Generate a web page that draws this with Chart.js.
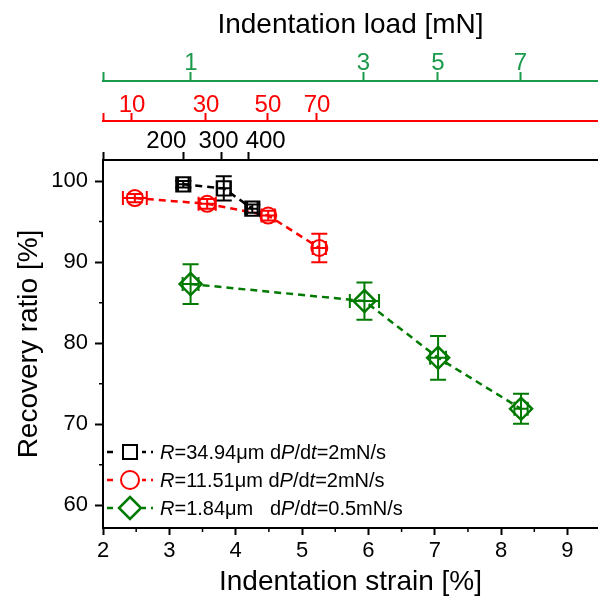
<!DOCTYPE html>
<html><head><meta charset="utf-8">
<script src="https://cdn.jsdelivr.net/npm/chart.js@4.4.1/dist/chart.umd.min.js"></script>
<style>
html,body{margin:0;padding:0;background:#fff;overflow:hidden}
#wrap{position:relative;width:598px;height:602px}
#legend{position:absolute;left:104px;top:438px;font-family:"Liberation Sans",Arial,sans-serif;font-size:20px;color:#000}
.row{height:28px;display:flex;align-items:center;white-space:pre}
.row svg{margin-right:4px;flex:none}
</style></head>
<body><div id="wrap"><canvas id="c" width="598" height="602"></canvas><div id="legend"></div></div>
<script>
// ---- data ----
const strainBlack = [3.21, 3.82, 4.25];
const ratioBlack  = [99.6, 99.1, 96.6];
const errYBlack   = [0.4, 1.5, 0.5];
const errXBlack   = [0.08, 0.1, 0.08];

const strainRed = [2.48, 3.57, 4.49, 5.26];
const ratioRed  = [97.9, 97.2, 95.75, 91.75];
const errYRed   = [0.5, 0.6, 0.6, 1.75];
const errXRed   = [0.18, 0.13, 0.1, 0.1];

const strainGreen = [3.32, 5.94, 7.05, 8.3];
const ratioGreen  = [87.3, 85.2, 78.2, 71.9];
const errYGreen   = [2.45, 2.3, 2.7, 1.85];
const errXGreen   = [0.12, 0.22, 0.12, 0.1];

const legendLabels = [
  '<i>R</i>=34.94μm d<i>P</i>/d<i>t</i>=2mN/s',
  '<i>R</i>=11.51μm d<i>P</i>/d<i>t</i>=2mN/s',
  '<i>R</i>=1.84μm   d<i>P</i>/d<i>t</i>=0.5mN/s'
];

const xTickValues = [2, 3, 4, 5, 6, 7, 8, 9];
const yTickValues = [60, 70, 80, 90, 100];

// top axes: load tick labels and their strain positions
// (black labels are padded with spaces so they sit side by side as in the original)
const loadBlackLabels = ['', '200     ', '300 ', '     400'];
const loadBlackPos    = [2, 3.206, 3.793, 4.2];
const loadRedLabels   = ['', '10', '30', '50', '70'];
const loadRedPos      = [2, 2.437, 3.552, 4.486, 5.225];
const loadGreenLabels = ['', '1', '3', '5', '7'];
const loadGreenPos    = [2, 3.326, 5.925, 7.048, 8.291];

// ---- styling ----
const BLACK = '#000000', RED = '#ff0000', GREEN = '#007a00', AXGREEN = '#1a9a4a';
const FF = '"Liberation Sans", Arial, sans-serif';
const XMIN = 2, XMAX = 9.46;

function pts(xs, ys){ return xs.map((x,i)=>({x:x, y:ys[i]})); }

const errs = [
  {ex: errXBlack, ey: errYBlack},
  {ex: errXRed, ey: errYRed},
  {ex: errXGreen, ey: errYGreen}
];

const errorBarPlugin = {
  id: 'errbars',
  afterDatasetsDraw(chart){
    const ctx = chart.ctx, xs = chart.scales.x, ys = chart.scales.y;
    chart.data.datasets.forEach((ds, di) => {
      const e = errs[di];
      ctx.save();
      ctx.strokeStyle = ds.borderColor;
      ctx.lineWidth = 2;
      ds.data.forEach((p, i) => {
        const px = xs.getPixelForValue(p.x), py = ys.getPixelForValue(p.y);
        const y1 = ys.getPixelForValue(p.y + e.ey[i]), y2 = ys.getPixelForValue(p.y - e.ey[i]);
        const x1 = xs.getPixelForValue(p.x - e.ex[i]), x2 = xs.getPixelForValue(p.x + e.ex[i]);
        const cw = 8;
        ctx.beginPath();
        ctx.moveTo(px, y1); ctx.lineTo(px, y2);
        ctx.moveTo(px - cw, y1); ctx.lineTo(px + cw, y1);
        ctx.moveTo(px - cw, y2); ctx.lineTo(px + cw, y2);
        ctx.moveTo(x1, py); ctx.lineTo(x2, py);
        ctx.moveTo(x1, py - 7); ctx.lineTo(x1, py + 7);
        ctx.moveTo(x2, py - 7); ctx.lineTo(x2, py + 7);
        ctx.stroke();
      });
      ctx.restore();
    });
  }
};

const minorTickPlugin = {
  id: 'minorticks',
  afterDraw(chart){
    const ctx = chart.ctx, xs = chart.scales.x, ys = chart.scales.y, a = chart.chartArea;
    ctx.save();
    ctx.strokeStyle = '#000'; ctx.lineWidth = 1.5;
    ctx.beginPath();
    for (let v = 2.5; v < XMAX; v += 1){
      const px = xs.getPixelForValue(v);
      ctx.moveTo(px, a.bottom); ctx.lineTo(px, a.bottom + 4);
    }
    for (let v = 65; v < 102; v += 10){
      const py = ys.getPixelForValue(v);
      ctx.moveTo(a.left, py); ctx.lineTo(a.left - 4, py);
    }
    ctx.stroke();
    ctx.restore();
  }
};

function noPad(s){ s.paddingLeft = 0; s.paddingRight = 0; s.paddingTop = 0; s.paddingBottom = 0; }

function topAxis(weight, height, pos, labels, color, pad, tl, title){
  const ax = {
    type: 'linear', position: 'top', min: XMIN, max: XMAX, weight: weight,
    afterBuildTicks: s => { s.ticks = pos.map(v => ({value: v})); },
    afterFit: s => { s.height = height; noPad(s); },
    ticks: {
      color: color, padding: pad, maxRotation: 0, autoSkip: false,
      font: {family: FF, size: 24, lineHeight: 1},
      callback: (v, i) => labels[i]
    },
    grid: {drawOnChartArea: false, tickLength: tl, tickWidth: 2, tickColor: color},
    border: {color: color, width: 2}
  };
  if (title) ax.title = {display: true, text: title, color: '#000',
    font: {family: FF, size: 28, lineHeight: 1.2}, padding: {top: 8, bottom: 0}};
  return ax;
}

const chart = new Chart(document.getElementById('c'), {
  type: 'line',
  data: {
    datasets: [
      {label: 'black', data: pts(strainBlack, ratioBlack), borderColor: BLACK,
       pointStyle: 'rect', pointRadius: 10, pointBorderWidth: 2},
      {label: 'red', data: pts(strainRed, ratioRed), borderColor: RED,
       pointStyle: 'circle', pointRadius: 8, pointBorderWidth: 2},
      {label: 'green', data: pts(strainGreen, ratioGreen), borderColor: GREEN,
       pointStyle: 'rectRot', pointRadius: 11, pointBorderWidth: 2.5}
    ].map(d => Object.assign(d, {
      borderWidth: 2.5, borderDash: [7, 5], backgroundColor: 'transparent',
      pointBackgroundColor: 'transparent', pointBorderColor: d.borderColor,
      showLine: true, tension: 0, fill: false, clip: false
    }))
  },
  options: {
    responsive: false, animation: false,
    layout: {padding: 0, autoPadding: false},
    plugins: {legend: {display: false}, tooltip: {enabled: false}},
    scales: {
      x: {
        type: 'linear', position: 'bottom', min: XMIN, max: XMAX,
        afterBuildTicks: s => { s.ticks = xTickValues.map(v => ({value: v})); },
        afterFit: s => { s.height = 74; noPad(s); },
        ticks: {color: '#000', padding: 5, maxRotation: 0, font: {family: FF, size: 22, lineHeight: 1},
                callback: v => String(v)},
        grid: {drawOnChartArea: false, tickLength: 7, tickWidth: 2, tickColor: '#000'},
        border: {color: '#000', width: 2},
        title: {display: true, text: 'Indentation strain [%]', color: '#000',
                font: {family: FF, size: 28, lineHeight: 1.2}, padding: {top: 0, bottom: 3}}
      },
      y: {
        type: 'linear', position: 'left', min: 57.2, max: 102.6,
        afterBuildTicks: s => { s.ticks = yTickValues.map(v => ({value: v})); },
        afterFit: s => { s.width = 103; noPad(s); },
        ticks: {color: '#000', padding: 7, font: {family: FF, size: 22, lineHeight: 1},
                callback: v => String(v)},
        grid: {drawOnChartArea: false, tickLength: 8, tickWidth: 2, tickColor: '#000'},
        border: {color: '#000', width: 2},
        title: {display: true, text: 'Recovery ratio [%]', color: '#000',
                font: {family: FF, size: 28, lineHeight: 1.2}, padding: {top: 12, bottom: 0}}
      },
      xBlack: topAxis(1, 39, loadBlackPos, loadBlackLabels, '#000', -1, 8, null),
      xRed: topAxis(2, 40, loadRedPos, loadRedLabels, RED, -4.5, 8, null),
      xGreen: topAxis(3, 81, loadGreenPos, loadGreenLabels, AXGREEN, -3.5, 9, 'Indentation load [mN]')
    }
  },
  plugins: [errorBarPlugin, minorTickPlugin]
});

// ---- HTML legend (mixed italic text) ----
const legendEl = document.getElementById('legend');
const markers = [
  '<rect x="19" y="6" width="14" height="14" fill="none" stroke="#000" stroke-width="2"/>',
  '<circle cx="26" cy="13" r="9" fill="none" stroke="#ff0000" stroke-width="2"/>',
  '<polygon points="26,2 37,13 26,24 15,13" fill="none" stroke="#007a00" stroke-width="2.5"/>'
];
chart.data.datasets.forEach((ds, i) => {
  const row = document.createElement('div');
  row.className = 'row';
  row.innerHTML = '<svg width="52" height="26" viewBox="0 0 52 26">' +
    '<line x1="3" y1="13" x2="49" y2="13" stroke="' + ds.borderColor + '" stroke-width="2.5" stroke-dasharray="6,5"/>' +
    '<rect x="14" y="0" width="24" height="26" fill="#fff"/>' + markers[i] + '</svg><span>' + legendLabels[i] + '</span>';
  legendEl.appendChild(row);
});
</script>
</body></html>
